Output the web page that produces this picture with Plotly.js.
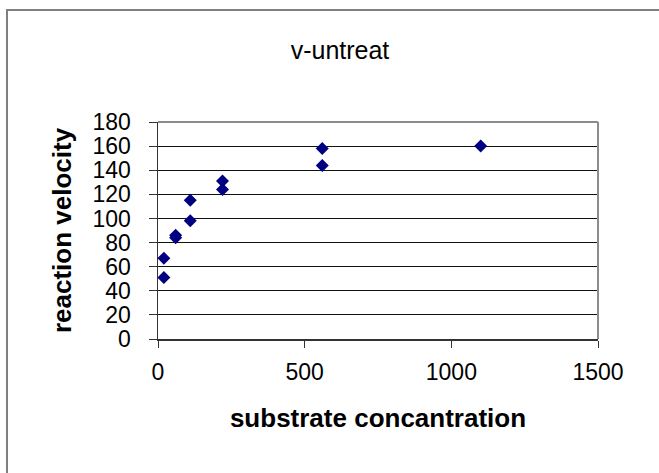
<!DOCTYPE html>
<html>
<head>
<meta charset="utf-8">
<script src="https://cdn.plot.ly/plotly-3.0.1.min.js"></script>
<style>
  html, body { margin: 0; padding: 0; width: 659px; height: 473px; overflow: hidden; background: #fff; }
  #frame { position: absolute; left: 6px; top: 9px; width: 800px; height: 600px; border: 2px solid #7f7f7f; }
  #chart { position: absolute; left: 0; top: 0; width: 659px; height: 473px; }
</style>
</head>
<body>
<div id="frame"></div>
<div id="chart"></div>
<script>
// substrate concentration and untreated reaction velocity
const concentration = [20, 20, 60, 60, 110, 110, 220, 220, 560, 560, 1100];
const velocity = [67, 51, 84, 86, 98, 115, 131, 124, 144, 158, 160];
const chartTitle = 'v-untreat';
const xTitle = 'substrate concantration';
const yTitle = 'reaction velocity';
const xTicks = [0, 500, 1000, 1500];
const yTicks = [0, 20, 40, 60, 80, 100, 120, 140, 160, 180];

const trace = {
  x: concentration,
  y: velocity,
  type: 'scatter',
  mode: 'markers',
  marker: { symbol: 'diamond', size: 10, color: '#000080' },
  hoverinfo: 'x+y'
};

const font = 'Liberation Sans, Arial, sans-serif';

const layout = {
  width: 659,
  height: 473,
  margin: { l: 158, r: 61, t: 122, b: 134 },
  paper_bgcolor: 'rgba(0,0,0,0)',
  plot_bgcolor: '#ffffff',
  showlegend: false,
  font: { family: font, color: '#000' },
  title: {
    text: chartTitle,
    font: { family: font, size: 25, color: '#000' },
    xref: 'container', yref: 'container',
    x: 340 / 659, xanchor: 'center',
    y: 1 - 50 / 473, yanchor: 'middle'
  },
  xaxis: {
    range: [0, 1500],
    tickvals: xTicks,
    ticktext: xTicks.map(String),
    ticks: 'outside', ticklen: 7, tickwidth: 1, tickcolor: '#333',
    ticklabelstandoff: 5,
    tickfont: { family: font, size: 23, color: '#000' },
    showline: true, linecolor: '#333', linewidth: 1.5,
    showgrid: false, zeroline: false,
    title: { text: xTitle, font: { family: font, size: 26, color: '#000', weight: 'bold' }, standoff: 24 }
  },
  yaxis: {
    range: [0, 180],
    tickvals: yTicks,
    ticktext: yTicks.map(String),
    ticks: 'outside', ticklen: 8, tickwidth: 1, tickcolor: '#333',
    ticklabelstandoff: 13,
    tickfont: { family: font, size: 23, color: '#000' },
    showline: true, linecolor: '#333', linewidth: 1.5,
    showgrid: true, gridcolor: '#111', gridwidth: 1,
    zeroline: false,
    title: { text: yTitle, font: { family: font, size: 26, color: '#000', weight: 'bold' }, standoff: 13 }
  },
  shapes: [
    { type: 'line', xref: 'paper', yref: 'paper', x0: 0, x1: 1, y0: 1, y1: 1,
      line: { color: '#8c8c8c', width: 2 }, layer: 'above' },
    { type: 'line', xref: 'paper', yref: 'paper', x0: 1, x1: 1, y0: 0, y1: 1,
      line: { color: '#8c8c8c', width: 2 }, layer: 'above' }
  ]
};

Plotly.newPlot('chart', [trace], layout, { displayModeBar: false, staticPlot: true });
</script>
</body>
</html>
